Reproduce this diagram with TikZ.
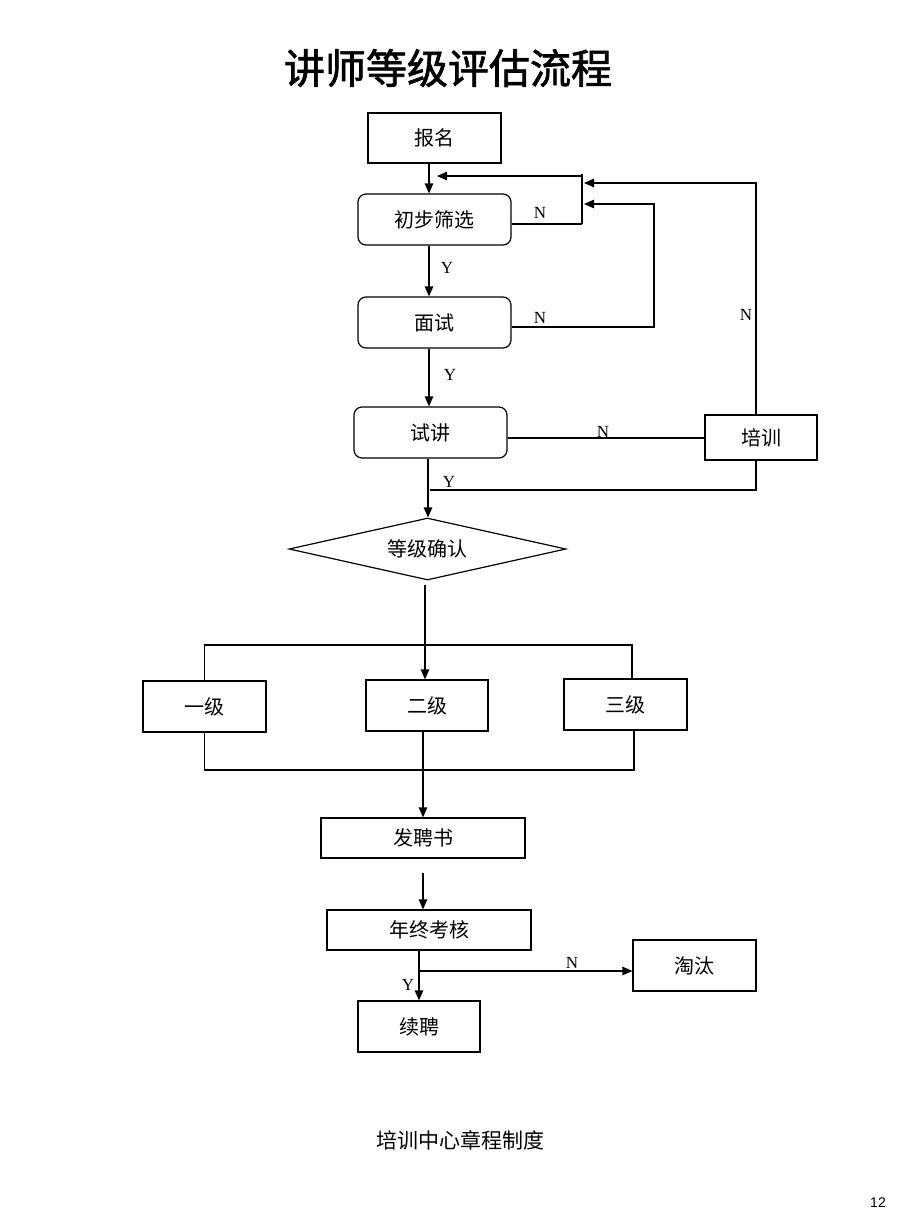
\documentclass[tikz,border=0pt]{standalone}
\usepackage{fontspec}
\setmainfont{Liberation Serif}
\newfontfamily\cjk{Noto Sans CJK SC}
\newfontfamily\cjktitle[FakeBold=1.6]{Noto Sans CJK SC}
\newfontfamily\sansnum{Liberation Sans}
\usetikzlibrary{shapes.geometric,arrows.meta}
\begin{document}
\begin{tikzpicture}[x=1pt,y=-1pt,
  line width=1.2pt,
  box/.style={draw, line width=1.2pt, inner sep=0pt, font=\cjk\fontsize{20}{20}\selectfont},
  rbox/.style={box, rounded corners=8pt},
  lab/.style={font=\fontsize{17}{17}\selectfont, inner sep=0pt},
  arr/.style={-{Triangle[length=10pt,width=8.5pt]}},
]
\useasboundingbox (0,0) rectangle (920,1227);

% title and footer
\node[font=\cjktitle\fontsize{41}{41}\selectfont] (title) at (448,68) {讲师等级评估流程};
\node[font=\cjk\fontsize{21}{21}\selectfont] (foot) at (460,1140) {培训中心章程制度};
\node[font=\sansnum\fontsize{14}{14}\selectfont] (pg) at (878,1203) {12};

% nodes
\node[box, minimum width=133pt, minimum height=50pt] (bm) at (434.5,138) {报名};
\node[rbox, minimum width=153pt, minimum height=51pt] (cb) at (434.5,219.5) {初步筛选};
\node[rbox, minimum width=153pt, minimum height=51pt] (ms) at (434.5,322.5) {面试};
\node[rbox, minimum width=153pt, minimum height=51pt] (sj) at (430.5,432.5) {试讲};
\node[box, minimum width=112pt, minimum height=45pt] (px) at (761,437.5) {培训};
\node[box, diamond, shape aspect=5, minimum width=277pt, minimum height=62pt] (dm) at (427.5,549) {等级确认};
\node[box, minimum width=123pt, minimum height=51pt] (yj) at (204.5,706.5) {一级};
\node[box, minimum width=122pt, minimum height=51pt] (ej) at (427,705.5) {二级};
\node[box, minimum width=123pt, minimum height=51pt] (sanj) at (625.5,704.5) {三级};
\node[box, minimum width=204pt, minimum height=40pt] (fps) at (423,838) {发聘书};
\node[box, minimum width=204pt, minimum height=40pt] (nz) at (429,930) {年终考核};
\node[box, minimum width=123pt, minimum height=51pt] (tt) at (694.5,965.5) {淘汰};
\node[box, minimum width=122pt, minimum height=51pt] (xp) at (419,1026.5) {续聘};

% helper coordinates
\coordinate (vx) at (429,0);
\coordinate (vd) at (428,0);
\coordinate (barT) at (582,174);
\coordinate (barB) at (582,224);
\coordinate (fbS) at (582,176);
\coordinate (fbE) at (437,176);
\coordinate (m1) at (654,327);
\coordinate (m2) at (654,204);
\coordinate (m3) at (584,204);
\coordinate (pxv) at (756,0);
\coordinate (m4) at (584,183);
\coordinate (m5) at (430,490);
\coordinate (tr) at (0,438);
\coordinate (d1) at (425,585);
\coordinate (h1) at (205,645);
\coordinate (h2) at (632,645);
\coordinate (h3) at (205,770);
\coordinate (h4) at (634,770);
\coordinate (a1) at (423,873);
\coordinate (b1) at (419,971);

% connectors
\draw[arr] (bm.south -| vx) -- (cb.north -| vx);
\draw (barT) -- (barB);
\draw[arr] (fbS) -- (fbE);
\draw (cb.east |- barB) -- (barB);
\draw[arr] (cb.south -| vx) -- (ms.north -| vx);
\draw[arr] (ms.east |- m1) -- (m1) -- (m2) -- (m3);
\draw[arr] (ms.south -| vx) -- (sj.north -| vx);
\draw (sj.east |- tr) -- (px.west |- tr);
\draw[arr] (px.north -| pxv) -- (pxv |- m4) -- (m4);
\draw (px.south -| pxv) -- (pxv |- m5) -- (m5);
\draw[arr] (sj.south -| vd) -- (dm.north -| vd);
\draw[arr] (d1) -- (d1 |- ej.north);
\draw (yj.north) -- (yj.north |- h1) -- (h2) -- (h2 |- sanj.north);
\draw (yj.south) -- (yj.south |- h3) -- (h4) -- (h4 |- sanj.south);
\draw[arr] (ej.south -| fps.north) -- (fps.north);
\draw[arr] (a1) -- (a1 |- nz.north);
\draw[arr] (nz.south -| xp.north) -- (xp.north);
\draw[arr] (b1) -- (b1 -| tt.west);

% labels
\node[lab] (n1) at (540,213) {N};
\node[lab] (y1) at (447,268) {Y};
\node[lab] (n2) at (540,318) {N};
\node[lab] (n3) at (746,315) {N};
\node[lab] (y2) at (450,375) {Y};
\node[lab] (n4) at (603,432) {N};
\node[lab] (y3) at (449,482) {Y};
\node[lab] (n5) at (572,963) {N};
\node[lab] (y4) at (408,985) {Y};
\end{tikzpicture}
\end{document}
